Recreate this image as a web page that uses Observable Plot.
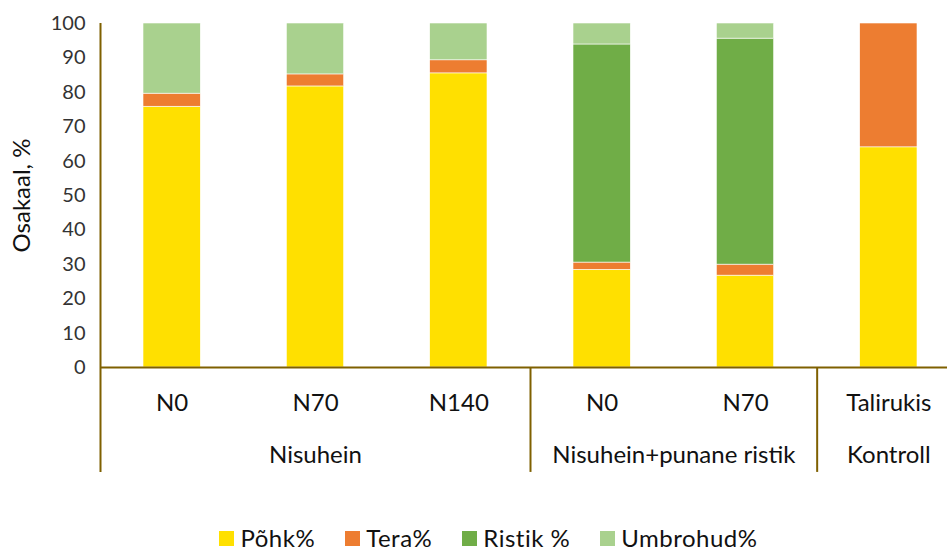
<!DOCTYPE html>
<html>
<head>
<meta charset="utf-8">
<script src="https://cdn.jsdelivr.net/npm/d3@7"></script>
<script src="https://cdn.jsdelivr.net/npm/@observablehq/plot@0.6"></script>
<style>
  html, body { margin: 0; padding: 0; background: #fff; overflow: hidden; }
  #wrap { width: 947px; height: 553px; position: relative; overflow: hidden; font-family: Lato, "Open Sans", sans-serif; }
  #legend { position: absolute; left: 0; top: 525px; width: 947px; display: flex; justify-content: center; padding-left: 60px; box-sizing: border-box; font-size: 24px; line-height: 26px; letter-spacing: 0.5px; color: #111; }
  .item { display: flex; align-items: center; margin-right: 30px; }
  .sw { width: 15px; height: 15px; margin-right: 6px; }
</style>
</head>
<body>
<div id="wrap"></div>
<script>
const groups = ["Nisuhein", "Nisuhein", "Nisuhein", "Nisuhein+punane ristik", "Nisuhein+punane ristik", "Kontroll"];
const treatments = ["N0", "N70", "N140", "N0", "N70", "Talirukis"];
const series = ["Põhk%", "Tera%", "Ristik %", "Umbrohud%"];
const pohk = [75.8, 81.7, 85.5, 28.4, 26.7, 64.0];
const tera = [3.8, 3.5, 3.8, 2.1, 3.2, 36.0];
const ristik = [0, 0, 0, 63.4, 65.7, 0];
const umbrohud = [20.4, 14.8, 10.7, 6.1, 4.4, 0];
const colors = ["#FFE000", "#ED7D31", "#70AD47", "#A9D18E"];
const yTicks = [0, 10, 20, 30, 40, 50, 60, 70, 80, 90, 100];

const seriesValues = [pohk, tera, ristik, umbrohud];
const rects = [];
treatments.forEach((t, i) => {
  let base = 0;
  seriesValues.forEach((vals, s) => {
    const v = vals[i];
    if (v > 0) {
      rects.push({i, series: series[s], y1: base, y2: base + v});
      base += v;
    }
  });
});

const ticks = treatments.map((t, i) => ({i, label: t}));
const groupNames = Array.from(new Set(groups));
const groupLabels = groupNames.map(g => {
  const idx = groups.map((d, i) => d === g ? i : -1).filter(i => i >= 0);
  return {label: g, x: (d3.min(idx) + d3.max(idx) + 1) / 2, start: d3.min(idx)};
});

const axisColor = "#7F6000";
const below = -30.5;

const plot = Plot.plot({
  width: 947,
  height: 500,
  marginTop: 23,
  marginBottom: 133,
  marginLeft: 100,
  marginRight: 0,
  style: {fontFamily: "Lato, 'Open Sans', sans-serif", overflow: "hidden", background: "white"},
  x: {type: "linear", domain: [0, treatments.length], range: [100, 960], axis: null},
  y: {domain: [0, 100], axis: null},
  color: {domain: series, range: colors},
  marks: [
    Plot.rect(rects, {
      x1: d => d.i + 0.3, x2: d => d.i + 0.7,
      y1: "y1", y2: "y2",
      fill: "series", stroke: "white", strokeWidth: 0.6
    }),
    Plot.axisY({ticks: yTicks, tickSize: 0, tickPadding: 15, fontSize: 20, color: "#333", tickFormat: d => d}),
    Plot.text(["Osakaal, %"], {frameAnchor: "left", textAnchor: "middle", dx: -78, rotate: -90, fontSize: 24, fill: "#111"}),
    Plot.ruleY([0], {x1: 0, x2: treatments.length, stroke: axisColor, strokeWidth: 2}),
    Plot.ruleX([0], {y1: 100, y2: below, stroke: axisColor, strokeWidth: 2}),
    Plot.ruleX(groupLabels.filter(g => g.start > 0), {x: "start", y1: 0, y2: below, stroke: axisColor, strokeWidth: 2}),
    Plot.text(ticks, {x: d => d.i + 0.5, y: 0, dy: 36, text: "label", fontSize: 24, letterSpacing: "0.3px", fill: "#111"}),
    Plot.text(groupLabels, {x: "x", y: 0, dy: 88, text: "label", fontSize: 24, letterSpacing: "0.3px", fill: "#111"})
  ]
});

const wrap = document.getElementById("wrap");
wrap.appendChild(plot);

const legend = document.createElement("div");
legend.id = "legend";
series.forEach((s, k) => {
  const it = document.createElement("div");
  it.className = "item";
  const sw = document.createElement("div");
  sw.className = "sw";
  sw.style.background = colors[k];
  const tx = document.createElement("span");
  tx.textContent = s;
  it.appendChild(sw);
  it.appendChild(tx);
  legend.appendChild(it);
});
wrap.appendChild(legend);
</script>
</body>
</html>
